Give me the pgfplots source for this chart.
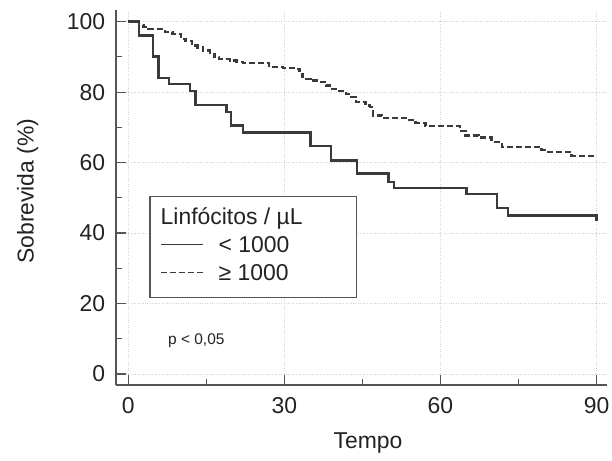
\documentclass[border=0pt]{standalone}
\usepackage{fontspec}
\setmainfont{Liberation Sans}
\usepackage{pgfplots}
\pgfplotsset{compat=1.18}
\definecolor{curve}{HTML}{3a3a3a}
\definecolor{axisgray}{HTML}{555555}
\definecolor{txt}{HTML}{222222}

\begin{document}
\begin{tikzpicture}
\useasboundingbox (-116.3bp,-76bp) rectangle (495.7bp,385bp);
\begin{axis}[
  scale only axis, width=490.7bp, height=375bp,
  xmin=-2.3, xmax=92, ymin=-3.1, ymax=103.3,
  axis x line*=bottom, axis y line*=left,
  axis line style={axisgray, line width=1.6bp},
  xtick={0,30,60,90}, ytick={0,20,...,100},
  minor x tick num=1, minor y tick num=1,
  tick align=inside,
  major tick length=10bp, minor tick length=6bp,
  tick style={axisgray, line width=1.2bp},
  grid=major, grid style={gray!35, dotted, line width=0.8bp},
  /pgf/number format/assume math mode=true,
  tick label style={font=\fontsize{23}{27}\selectfont, text=txt, inner sep=0pt},
  yticklabel style={xshift=-11bp},
  xticklabel style={yshift=-12bp},
  xlabel={Tempo}, ylabel={Sobrevida (\%)},
  label style={font=\fontsize{23}{27}\selectfont, text=txt},
  xlabel style={at={(axis description cs:0.513,-0.168)}, anchor=base},
  ylabel style={at={(axis description cs:-0.1687,0.517)}, anchor=base},
  legend style={at={(0.0673,0.504)}, anchor=north west,
    draw=axisgray, line width=1.4bp, fill=white,
    inner xsep=0pt, inner ysep=12bp, row sep=7bp,
    font=\fontsize{23}{27}\selectfont, text=txt,
    nodes={inner sep=0pt, text height=16bp, text depth=5bp},
    cells={anchor=base west}},
  legend image code/.code={
    \path[draw=none] (0bp,0bp) -- (68.7bp,0bp);
    \draw[#1, line width=1.1bp] (10.7bp,7.9bp) -- (52.7bp,7.9bp);},
]
\addlegendimage{empty legend}
\addlegendentry{\hspace*{-58bp}Linfócitos / µL\hspace*{54bp}}

\addplot[const plot, curve, line width=2.3bp] table {
t s
0 100
2.0 96.1
4.8 90.1
5.8 84.0
7.8 82.3
11.8 80.4
12.9 76.4
18.9 74.3
19.8 70.5
22.0 68.5
35.0 64.7
39.0 60.6
44.0 56.9
50.0 54.5
51.0 52.8
65.0 51.0
70.9 47.1
73.0 45.0
90.0 43.4
};
\addlegendentry{< 1000}

\addplot[const plot, curve, line width=2.3bp, dash pattern=on 6bp off 3bp] table {
t s
0 100
2.0 99.0
2.9 98.4
3.9 97.9
7.0 97.0
8.5 96.5
10.2 95.1
11.0 94.6
12.2 93.2
13.3 92.7
14.4 91.8
15.7 90.8
16.6 89.9
17.4 89.4
19.5 89.0
20.8 88.6
22.0 88.2
27.1 87.1
29.7 86.9
32.2 86.6
32.9 85.2
33.5 83.8
35.0 83.3
37.0 82.8
38.0 81.9
39.2 80.9
40.5 80.3
41.8 79.5
42.8 78.6
43.7 77.1
45.6 76.2
46.4 75.7
47.0 73.4
48.8 72.7
53.3 72.0
55.2 71.2
57.1 70.3
63.7 69.0
64.8 67.7
67.3 67.1
69.8 65.8
71.8 64.4
79.4 63.5
80.7 63.0
85.2 61.8
90.0 61.8
};
\addlegendentry{≥ 1000}

\node[anchor=west, font=\fontsize{15.5}{18}\selectfont, text=txt] at (axis cs:7,9.5) {p < 0,05};
\end{axis}
\end{tikzpicture}
\end{document}
